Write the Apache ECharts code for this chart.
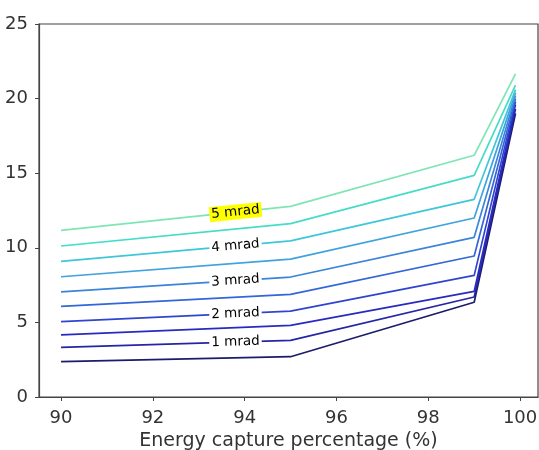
<!DOCTYPE html>
<html>
<head>
<meta charset="utf-8">
<script src="https://cdn.jsdelivr.net/npm/echarts@6/dist/echarts.min.js"></script>
<style>html,body{margin:0;padding:0;background:#fff;}#c{width:539px;height:450px;}</style>
</head>
<body>
<div id="c"></div>
<script>
// x positions (energy capture %)
const xValues = [90, 95, 99, 99.9];
// one array per line (0.5 mrad steps)
const line05 = [2.37, 2.70, 6.35, 19.0];
const line10 = [3.33, 3.80, 6.70, 19.3];
const line15 = [4.16, 4.80, 7.08, 19.6];
const line20 = [5.05, 5.76, 8.15, 19.8];
const line25 = [6.08, 6.88, 9.45, 20.0];
const line30 = [7.04, 8.04, 10.70, 20.2];
const line35 = [8.06, 9.24, 12.00, 20.4];
const line40 = [9.09, 10.46, 13.25, 20.6];
const line45 = [10.12, 11.62, 14.85, 20.9];
const line50 = [11.17, 12.78, 16.20, 21.65];
const lines = [line05, line10, line15, line20, line25, line30, line35, line40, line45, line50];
const lineColors = ['#1c1c6b', '#2525a5', '#2a2ac0', '#2f45d0', '#3366d6', '#3a84da', '#3fa3dd', '#3fc6d8', '#45dcc8', '#7ee6b4'];
// labels drawn on every other line
const labelTexts = ['1 mrad', '2 mrad', '3 mrad', '4 mrad', '5 mrad'];
const labelLineIdx = [1, 3, 5, 7, 9];
const labelX = 93.8;
const xTicks = [90, 92, 94, 96, 98, 100];

const chart = echarts.init(document.getElementById('c'), null, {renderer: 'canvas'});
const font = 'DejaVu Sans';
const axisColor = '#444';

const series = lines.map((arr, i) => ({
  type: 'line',
  data: xValues.map((x, j) => [x, arr[j]]),
  symbol: 'none',
  lineStyle: {color: lineColors[i], width: 1.7},
  z: 2 + i,
  silent: true
}));

chart.setOption({
  animation: false,
  grid: {left: 39, top: 24, right: 1, bottom: 53, containLabel: false, outerBoundsMode: 'none',
         show: true, borderColor: axisColor, borderWidth: 1.2, backgroundColor: 'transparent'},
  xAxis: {
    type: 'value', min: 89.52, max: 100.39,
    name: 'Energy capture percentage (%)', nameLocation: 'middle', nameGap: 35,
    nameTextStyle: {fontFamily: font, fontSize: 19, color: '#333'},
    axisLine: {show: true, onZero: false, lineStyle: {color: axisColor, width: 1.2}},
    axisTick: {show: true, length: 4, lineStyle: {color: axisColor}, customValues: xTicks},
    axisLabel: {fontFamily: font, fontSize: 18, color: '#333', margin: 12, customValues: xTicks},
    splitLine: {show: false}
  },
  yAxis: {
    type: 'value', min: 0, max: 25, interval: 5,
    axisLine: {show: true, lineStyle: {color: axisColor, width: 1.2}},
    axisTick: {show: true, length: 4, lineStyle: {color: axisColor}},
    axisLabel: {fontFamily: font, fontSize: 18, color: '#333', margin: 11},
    splitLine: {show: false}
  },
  series: series
});

// inline labels positioned through the chart's scales
function interp(arr, x) {
  for (let j = 0; j < xValues.length - 1; j++) {
    if (x >= xValues[j] && x <= xValues[j + 1]) {
      const t = (x - xValues[j]) / (xValues[j + 1] - xValues[j]);
      return arr[j] + t * (arr[j + 1] - arr[j]);
    }
  }
  return arr[0];
}
const graphics = labelTexts.map((txt, k) => {
  const arr = lines[labelLineIdx[k]];
  const p = chart.convertToPixel({gridIndex: 0}, [labelX, interp(arr, labelX)]);
  const p0 = chart.convertToPixel({gridIndex: 0}, [xValues[0], arr[0]]);
  const p1 = chart.convertToPixel({gridIndex: 0}, [xValues[1], arr[1]]);
  const ang = Math.atan2(-(p1[1] - p0[1]), p1[0] - p0[0]);
  return {
    type: 'text', x: p[0], y: p[1], rotation: ang, z: 100,
    style: {
      text: txt, fontFamily: font, fontSize: 13.5, fill: '#000',
      align: 'center', verticalAlign: 'middle',
      backgroundColor: k === 4 ? '#ffff00' : '#ffffff', padding: [1, 2, 0, 2]
    }
  };
});
chart.setOption({graphic: graphics});
</script>
</body>
</html>
